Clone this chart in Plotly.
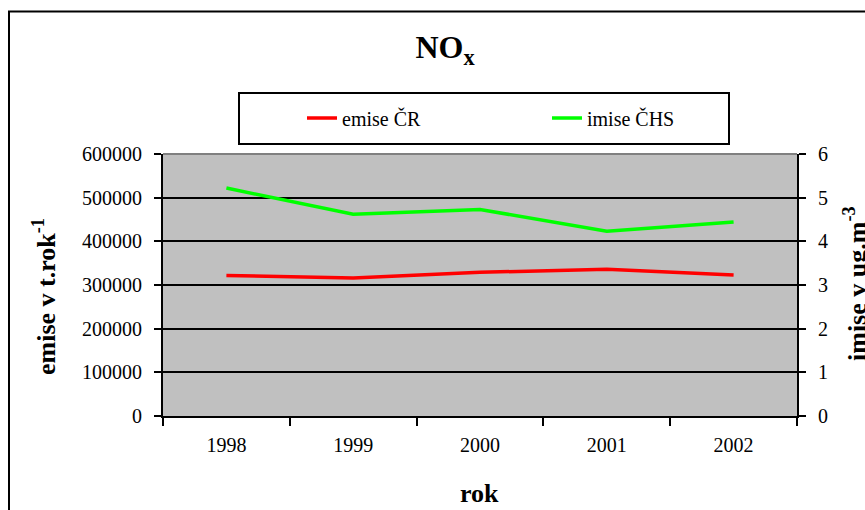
import plotly.graph_objects as go

years = ["1998", "1999", "2000", "2001", "2002"]
emise_cr = [322000, 316000, 329000, 336000, 323000]
imise_chs = [5.22, 4.62, 4.73, 4.23, 4.44]
left_ticks = [0, 100000, 200000, 300000, 400000, 500000, 600000]
right_ticks = [0, 1, 2, 3, 4, 5, 6]

FONT = "Liberation Serif"
W, H = 865, 510
L, R, T, B = 163, 797, 154, 416

def px_x(px):
    return (px - L) / (R - L)

def px_y(py):
    return (B - py) / (B - T)

def f(size):
    return dict(family=FONT, size=size, color="black")

fig = go.Figure()
fig.add_trace(go.Scatter(x=years, y=emise_cr, name="emise ČR", mode="lines",
                         line=dict(color="#ff0000", width=3.5), yaxis="y"))
fig.add_trace(go.Scatter(x=years, y=imise_chs, name="imise ČHS", mode="lines",
                         line=dict(color="#00ff00", width=3.5), yaxis="y2"))

fig.update_layout(
    width=W, height=H,
    margin=dict(l=L, r=W - R, t=T, b=H - B, autoexpand=False),
    paper_bgcolor="white",
    plot_bgcolor="#c0c0c0",
    font=f(20),
    showlegend=True,
    legend=dict(orientation="h", x=px_x(302), xanchor="left",
                y=px_y(118), yanchor="middle",
                bgcolor="rgba(0,0,0,0)", borderwidth=0,
                font=f(20),
                entrywidth=200, entrywidthmode="pixels"),
    xaxis=dict(type="category", range=[-0.5, 4.5], tickson="boundaries",
               ticks="outside", ticklen=8,
               tickwidth=2, tickcolor="black", showline=True, linecolor="black",
               linewidth=2, showgrid=False, zeroline=False,
               tickfont=f(20), ticklabelstandoff=10),
    yaxis=dict(range=[0, 600000], tickvals=left_ticks, tickformat="d",
               ticks="outside", ticklen=7, tickwidth=2, tickcolor="black",
               showline=True, linecolor="black", linewidth=2,
               showgrid=True, gridcolor="black", gridwidth=2, zeroline=False,
               tickfont=f(20), ticklabelstandoff=8),
    yaxis2=dict(range=[0, 6], tickvals=right_ticks, overlaying="y", side="right",
                ticks="outside", ticklen=7, tickwidth=2, tickcolor="black",
                showline=True, linecolor="black", linewidth=2,
                showgrid=False, zeroline=False,
                tickfont=f(20), ticklabelstandoff=8),
)

fig.update_layout(
    title=dict(text="<b>NO<sub>x</sub></b>", x=px_x(445), xref="paper", xanchor="center",
               y=1 - 47 / H, yref="container", yanchor="middle",
               font=f(32)),
)

annotations = [
    dict(text="<b>emise v t.rok<sup>-1</sup></b>", x=px_x(44), y=px_y(297),
         textangle=-90, font=f(26)),
    dict(text="<b>imise v ug.m<sup>-3</sup></b>", x=px_x(855), y=px_y(284),
         textangle=-90, font=f(26)),
    dict(text="<b>rok</b>", x=px_x(479), y=px_y(493), font=f(26)),
]
for a in annotations:
    fig.add_annotation(xref="paper", yref="paper", showarrow=False,
                       xanchor="center", yanchor="middle", **a)

# outer chart border (extends past right and bottom edges)
fig.add_shape(type="rect", xref="paper", yref="paper",
              x0=px_x(9), x1=px_x(W + 40), y0=px_y(H + 40), y1=px_y(11.5),
              line=dict(color="black", width=2), fillcolor="rgba(0,0,0,0)", layer="below")
# legend box
fig.add_shape(type="rect", xref="paper", yref="paper",
              x0=px_x(239), x1=px_x(729), y0=px_y(144), y1=px_y(93),
              line=dict(color="black", width=2), fillcolor="white")
# gray top border of plot area
fig.add_shape(type="line", xref="paper", yref="paper", x0=0, x1=1, y0=1, y1=1,
              line=dict(color="#808080", width=2), layer="above")

fig.write_html("out.html", config={"displayModeBar": False},
               post_script="document.body.style.margin='0';document.body.style.overflow='hidden';")
